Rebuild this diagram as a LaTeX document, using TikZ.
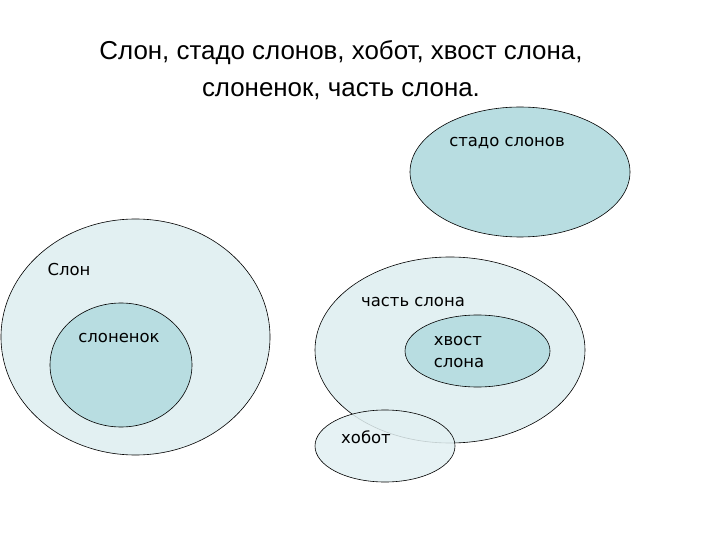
\documentclass[tikz,border=0pt]{standalone}
\usepackage{fontspec}
\setmainfont{Liberation Sans}
\newfontfamily\tagfont{DejaVu Sans}
\usetikzlibrary{shapes.geometric}
\definecolor{paleblue}{RGB}{226,240,242}
\definecolor{midblue}{RGB}{184,221,225}

\begin{document}
\begin{tikzpicture}[x=1bp, y=-1bp]
\tikzstyle{set}=[ellipse, draw, inner sep=0pt, line width=0.6bp]
\tikzstyle{tag}=[inner sep=0pt, font=\tagfont\fontsize{16.5}{23}\selectfont]
\useasboundingbox (0,0) rectangle (720,540);
% title
\node[align=center, font=\fontsize{26}{37}\selectfont] (title) at (341,70)
  {Слон, стадо слонов, хобот, хвост слона,\\слоненок, часть слона.};
% sets
\node[set, fill=midblue, minimum width=220bp, minimum height=130bp] (herd) at (520,172) {};
\node[set, fill=paleblue, minimum width=269bp, minimum height=236bp] (elephant) at (135.5,337) {};
\node[set, fill=midblue, minimum width=142bp, minimum height=124bp] (calf) at (121,365) {};
\node[set, fill=paleblue, minimum width=270bp, minimum height=186bp] (part) at (450,350) {};
\node[set, fill=midblue, minimum width=145bp, minimum height=72bp] (tail) at (477.5,351) {};
\node[set, fill=paleblue, fill opacity=.85, minimum width=140bp, minimum height=72bp] (trunk) at (385,446) {};
% labels
\node[tag] (herdT) at (507,143) {стадо слонов};
\node[tag] (elephantT) at (69,270) {Слон};
\node[tag] (calfT) at (119,338) {слоненок};
\node[tag] (partT) at (413,302) {часть слона};
\node[tag, align=left] (tailT) at (459,352) {хвост\\слона};
\node[tag] (trunkT) at (366,437) {хобот};
\end{tikzpicture}
\end{document}
